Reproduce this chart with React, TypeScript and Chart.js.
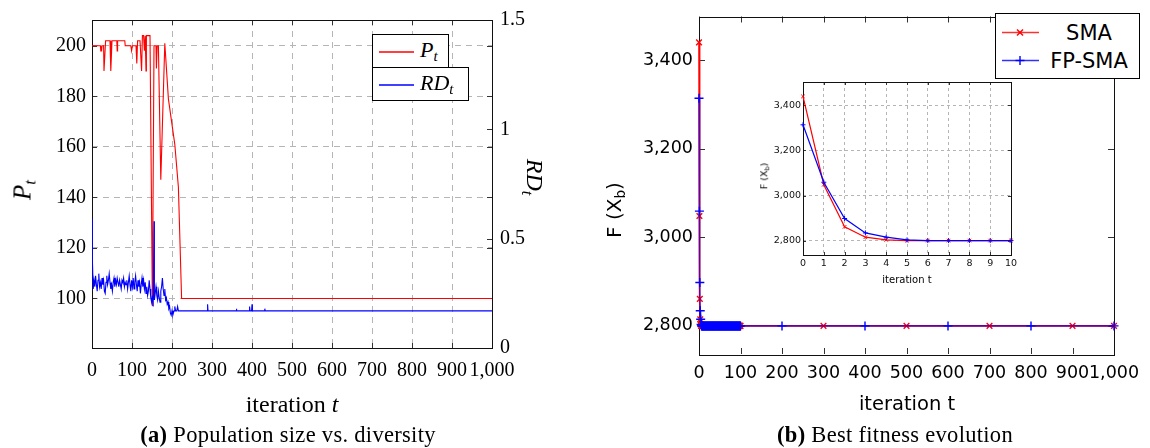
import React, { useEffect, useRef } from "react";
import { Chart, registerables } from "chart.js";
Chart.register(...registerables);

// ---------------- DATA ----------------
// (a) population size P_t (left axis)
const P_ITER = [0, 21, 22, 24, 25, 29, 30, 34, 45, 47,
  50, 62, 63, 64, 82, 83, 97, 99, 101, 110,
  112, 114, 120, 122, 124, 126, 129, 131, 133, 135,
  136, 142, 145, 151, 155, 160, 161, 163, 166, 172,
  182, 191, 207, 216, 224, 1000];
const P_VAL = [200, 200, 198, 198, 200, 200, 190, 202, 202, 190,
  202, 202, 198, 202, 202, 200, 200, 198, 200, 200,
  193, 202, 202, 202, 190, 204, 204, 198, 204, 190,
  204, 204, 204, 97, 200, 200, 191, 200, 200, 147,
  201, 179, 161, 144, 100, 100];

// (a) relative diversity RD_t (right axis)
const RD_ITER = [0, 1, 3, 5, 7, 9, 11, 13, 15, 17,
  19, 21, 23, 25, 27, 29, 31, 33, 35, 37,
  39, 41, 43, 45, 47, 49, 51, 53, 55, 57,
  59, 61, 63, 65, 67, 69, 71, 73, 75, 77,
  79, 81, 83, 85, 87, 89, 91, 93, 95, 97,
  99, 101, 103, 105, 107, 109, 111, 113, 115, 117,
  119, 121, 123, 125, 127, 129, 131, 133, 135, 137,
  139, 141, 143, 145, 147, 149, 151, 153, 155, 156,
  158, 160, 162, 164, 166, 168, 170, 172, 174, 176,
  178, 180, 182, 184, 186, 188, 190, 192, 194, 196,
  198, 200, 202, 205, 207, 209, 212, 214, 216, 220,
  288, 289, 290, 360, 361, 362, 393, 394, 395, 399,
  400, 401, 431, 432, 433, 1000];
const RD_VAL = [0.59, 0.40, 0.27, 0.31, 0.28, 0.33, 0.29, 0.26, 0.31, 0.34,
  0.28, 0.30, 0.27, 0.32, 0.29, 0.31, 0.26, 0.25, 0.30, 0.33,
  0.29, 0.31, 0.34, 0.30, 0.27, 0.29, 0.26, 0.30, 0.32, 0.28,
  0.31, 0.29, 0.32, 0.30, 0.28, 0.31, 0.29, 0.27, 0.31, 0.30,
  0.32, 0.28, 0.30, 0.29, 0.31, 0.27, 0.30, 0.33, 0.29, 0.26,
  0.31, 0.28, 0.32, 0.27, 0.30, 0.33, 0.29, 0.26, 0.31, 0.28,
  0.30, 0.25, 0.29, 0.32, 0.28, 0.31, 0.27, 0.30, 0.25, 0.28,
  0.24, 0.26, 0.31, 0.27, 0.23, 0.21, 0.24, 0.19, 0.58, 0.22,
  0.25, 0.28, 0.24, 0.22, 0.26, 0.23, 0.21, 0.26, 0.28, 0.32,
  0.27, 0.24, 0.27, 0.22, 0.23, 0.20, 0.21, 0.18, 0.19, 0.16,
  0.15, 0.17, 0.15, 0.17, 0.19, 0.17, 0.17, 0.19, 0.17, 0.17,
  0.17, 0.20, 0.17, 0.17, 0.18, 0.17, 0.17, 0.19, 0.17, 0.17,
  0.20, 0.17, 0.17, 0.18, 0.17, 0.17];

// (b) best fitness, every iteration 0..100
const ITER_DENSE = [0, 1, 2, 3, 4, 5, 6, 7, 8, 9,
  10, 11, 12, 13, 14, 15, 16, 17, 18, 19,
  20, 21, 22, 23, 24, 25, 26, 27, 28, 29,
  30, 31, 32, 33, 34, 35, 36, 37, 38, 39,
  40, 41, 42, 43, 44, 45, 46, 47, 48, 49,
  50, 51, 52, 53, 54, 55, 56, 57, 58, 59,
  60, 61, 62, 63, 64, 65, 66, 67, 68, 69,
  70, 71, 72, 73, 74, 75, 76, 77, 78, 79,
  80, 81, 82, 83, 84, 85, 86, 87, 88, 89,
  90, 91, 92, 93, 94, 95, 96, 97, 98, 99,
  100];
const SMA_DENSE = [3440, 3048, 2861, 2815, 2803, 2800, 2800, 2800, 2800, 2800,
  2800, 2800, 2800, 2800, 2800, 2800, 2800, 2800, 2800, 2800,
  2800, 2800, 2800, 2800, 2800, 2800, 2800, 2800, 2800, 2800,
  2800, 2800, 2800, 2800, 2800, 2800, 2800, 2800, 2800, 2800,
  2800, 2800, 2800, 2800, 2800, 2800, 2800, 2800, 2800, 2800,
  2800, 2800, 2800, 2800, 2800, 2800, 2800, 2800, 2800, 2800,
  2800, 2800, 2800, 2800, 2800, 2800, 2800, 2800, 2800, 2800,
  2800, 2800, 2800, 2800, 2800, 2800, 2800, 2800, 2800, 2800,
  2800, 2800, 2800, 2800, 2800, 2800, 2800, 2800, 2800, 2800,
  2800, 2800, 2800, 2800, 2800, 2800, 2800, 2800, 2800, 2800,
  2800];
const FP_DENSE = [3314, 3059, 2898, 2834, 2815, 2803, 2800, 2800, 2800, 2800,
  2800, 2800, 2800, 2800, 2800, 2800, 2800, 2800, 2800, 2800,
  2800, 2800, 2800, 2800, 2800, 2800, 2800, 2800, 2800, 2800,
  2800, 2800, 2800, 2800, 2800, 2800, 2800, 2800, 2800, 2800,
  2800, 2800, 2800, 2800, 2800, 2800, 2800, 2800, 2800, 2800,
  2800, 2800, 2800, 2800, 2800, 2800, 2800, 2800, 2800, 2800,
  2800, 2800, 2800, 2800, 2800, 2800, 2800, 2800, 2800, 2800,
  2800, 2800, 2800, 2800, 2800, 2800, 2800, 2800, 2800, 2800,
  2800, 2800, 2800, 2800, 2800, 2800, 2800, 2800, 2800, 2800,
  2800, 2800, 2800, 2800, 2800, 2800, 2800, 2800, 2800, 2800,
  2800];
// (b) sparse marks after iteration 100
const SMA_SPARSE_ITER = [300, 500, 700, 900, 1000];
const SMA_SPARSE = [2800, 2800, 2800, 2800, 2800];
const FP_SPARSE_ITER = [200, 400, 600, 800, 1000];
const FP_SPARSE = [2800, 2800, 2800, 2800, 2800];
// (b) inset: first 10 iterations
const INSET_ITER = [0, 1, 2, 3, 4, 5, 6, 7, 8, 9, 10];
const SMA_INSET = [3440, 3048, 2861, 2815, 2803, 2800, 2800, 2800, 2800, 2800, 2800];
const FP_INSET = [3314, 3059, 2898, 2834, 2815, 2803, 2800, 2800, 2800, 2800, 2800];

// tick values
const ITER_TICKS = [0, 100, 200, 300, 400, 500, 600, 700, 800, 900, 1000];
const P_TICKS = [100, 120, 140, 160, 180, 200];
const RD_TICKS = [0, 0.5, 1, 1.5];
const FIT_TICKS = [2800, 3000, 3200, 3400];
const INSET_TICKS = [0, 1, 2, 3, 4, 5, 6, 7, 8, 9, 10];

// ---------------- HELPERS ----------------
const SERIF = "'Liberation Serif', 'DejaVu Serif', serif";
const SANS = "'DejaVu Sans', 'Liberation Sans', sans-serif";

const pts = (xs: number[], ys: number[]) => xs.map((x, i) => ({ x, y: ys[i] }));
const setTicks = (vals: number[]) => (s: any) => {
  s.ticks = vals.map((v) => ({ value: v }));
};
const fmt = (v: any) => Number(v).toLocaleString("en-US");

const framePlugin = {
  id: "frame",
  beforeDatasetsDraw(chart: any, _a: any, opts: any) {
    const { ctx, chartArea: a } = chart;
    const len = opts.len || 5;
    ctx.save();
    ctx.setLineDash([]);
    ctx.strokeStyle = "#333";
    ctx.lineWidth = 1;
    (opts.ticks || []).forEach((spec: any) => {
      const s = chart.scales[spec.id];
      s.ticks.forEach((t: any) => {
        const p = Math.round(s.getPixelForValue(t.value)) + 0.5;
        spec.sides.forEach((side: string) => {
          ctx.beginPath();
          if (side === "bottom") { ctx.moveTo(p, a.bottom); ctx.lineTo(p, a.bottom - len); }
          if (side === "top") { ctx.moveTo(p, a.top); ctx.lineTo(p, a.top + len); }
          if (side === "left") { ctx.moveTo(a.left, p); ctx.lineTo(a.left + len, p); }
          if (side === "right") { ctx.moveTo(a.right, p); ctx.lineTo(a.right - len, p); }
          ctx.stroke();
        });
      });
    });
    ctx.strokeStyle = "#111";
    ctx.strokeRect(Math.round(a.left) + 0.5, Math.round(a.top) + 0.5,
      Math.round(a.right - a.left), Math.round(a.bottom - a.top));
    ctx.restore();
  },
};

function ChartCanvas({ left, top, width, height, config }: any) {
  const ref = useRef<HTMLCanvasElement>(null);
  useEffect(() => {
    const c = new Chart(ref.current as HTMLCanvasElement, config());
    return () => c.destroy();
  }, []);
  return (
    <canvas ref={ref} width={width} height={height}
      style={{ position: "absolute", left, top, width, height }} />
  );
}

const Label = ({ x, y, rot = 0, style, children }: any) => (
  <div style={{
    position: "absolute", left: x, top: y, whiteSpace: "nowrap", lineHeight: 1, color: "#000",
    transform: `translate(-50%,-50%) rotate(${rot}deg)`, ...style,
  }}>{children}</div>
);

const subStyle = { fontSize: "0.68em", verticalAlign: "-0.3em", lineHeight: 0 };

// ---------------- CHART CONFIGS ----------------
const leftConfig = () => ({
  type: "line",
  data: {
    datasets: [
      { label: "RD", data: pts(RD_ITER, RD_VAL), yAxisID: "y1", borderColor: "#0000ff", borderWidth: 1.1, pointRadius: 0, order: 0 },
      { label: "P", data: pts(P_ITER, P_VAL), yAxisID: "y", borderColor: "#ff0000", borderWidth: 1.1, pointRadius: 0, order: 1 },
    ],
  },
  options: {
    animation: false, responsive: false, events: [],
    layout: { padding: { top: 17, left: 0, right: 0, bottom: 0 } },
    plugins: {
      legend: { display: false }, tooltip: { enabled: false },
      frame: { len: 5, ticks: [{ id: "x", sides: ["bottom", "top"] }, { id: "y", sides: ["left", "right"] }, { id: "y1", sides: ["right"] }] },
    },
    scales: {
      x: {
        type: "linear", position: "bottom", min: 0, max: 1000,
        afterBuildTicks: setTicks(ITER_TICKS), afterFit: (s: any) => { s.height = 100; },
        ticks: { autoSkip: false, maxRotation: 0, minRotation: 0, padding: 11, color: "#000", font: { family: SERIF, size: 20 }, callback: fmt },
        grid: { color: "#b5b5b5", lineWidth: 1, drawTicks: false },
        border: { display: false, dash: [6, 5] },
      },
      y: {
        type: "linear", position: "left", min: 80.4, max: 210.2,
        afterBuildTicks: setTicks(P_TICKS), afterFit: (s: any) => { s.width = 92; },
        ticks: { autoSkip: false, padding: 6, color: "#000", font: { family: SERIF, size: 20 }, callback: fmt },
        grid: { color: "#b5b5b5", lineWidth: 1, drawTicks: false },
        border: { display: false, dash: [6, 5] },
      },
      y1: {
        type: "linear", position: "right", min: 0, max: 1.5,
        afterBuildTicks: setTicks(RD_TICKS), afterFit: (s: any) => { s.width = 78; },
        ticks: { autoSkip: false, padding: 8, color: "#000", font: { family: SERIF, size: 20 }, callback: (v: any) => String(v) },
        grid: { display: false, drawTicks: false },
        border: { display: false },
      },
    },
  },
  plugins: [framePlugin],
});

const mainConfig = () => ({
  type: "line",
  data: {
    datasets: [
      {
        label: "FP-SMA", data: pts(ITER_DENSE.concat(FP_SPARSE_ITER), FP_DENSE.concat(FP_SPARSE)),
        borderColor: "rgba(0,0,255,0.6)", borderWidth: 1.6, pointStyle: "cross", pointRadius: 4.5,
        pointBorderColor: "#0000ff", pointBackgroundColor: "#0000ff", pointBorderWidth: 1.4, order: 0, clip: false,
      },
      {
        label: "SMA", data: pts(ITER_DENSE.concat(SMA_SPARSE_ITER), SMA_DENSE.concat(SMA_SPARSE)),
        borderColor: "#ff0000", borderWidth: 1.6, pointStyle: "crossRot", pointRadius: 4,
        pointBorderColor: "#ff0000", pointBackgroundColor: "#ff0000", pointBorderWidth: 1.4, order: 1, clip: false,
      },
    ],
  },
  options: {
    animation: false, responsive: false, events: [],
    layout: { padding: { top: 10, left: 0, right: 36, bottom: 0 } },
    plugins: {
      legend: { display: false }, tooltip: { enabled: false },
      frame: { len: 6, ticks: [{ id: "x", sides: ["bottom", "top"] }, { id: "y", sides: ["left", "right"] }] },
    },
    scales: {
      x: {
        type: "linear", min: 0, max: 1000,
        afterBuildTicks: setTicks(ITER_TICKS), afterFit: (s: any) => { s.height = 94; },
        ticks: { autoSkip: false, maxRotation: 0, minRotation: 0, padding: 9, color: "#000", font: { family: SANS, size: 17.5 }, callback: fmt },
        grid: { display: false, drawTicks: false }, border: { display: false },
      },
      y: {
        type: "linear", min: 2736.5, max: 3498.5,
        afterBuildTicks: setTicks(FIT_TICKS), afterFit: (s: any) => { s.width = 129; },
        ticks: { autoSkip: false, padding: 6, color: "#000", font: { family: SANS, size: 17.5 }, callback: fmt },
        grid: { display: false, drawTicks: false }, border: { display: false },
      },
    },
  },
  plugins: [framePlugin],
});

const insetConfig = () => ({
  type: "line",
  data: {
    datasets: [
      {
        label: "FP-SMA", data: pts(INSET_ITER, FP_INSET),
        borderColor: "#0000ff", borderWidth: 1.2, pointStyle: "cross", pointRadius: 2.5,
        pointBorderColor: "#0000ff", pointBorderWidth: 1, order: 0, clip: false,
      },
      {
        label: "SMA", data: pts(INSET_ITER, SMA_INSET),
        borderColor: "#ff0000", borderWidth: 1.2, pointStyle: "crossRot", pointRadius: 2.5,
        pointBorderColor: "#ff0000", pointBorderWidth: 1, order: 1, clip: false,
      },
    ],
  },
  options: {
    animation: false, responsive: false, events: [],
    layout: { padding: { top: 22, left: 0, right: 19, bottom: 0 } },
    plugins: {
      legend: { display: false }, tooltip: { enabled: false },
      frame: { len: 3, ticks: [{ id: "x", sides: ["bottom", "top"] }, { id: "y", sides: ["left", "right"] }] },
    },
    scales: {
      x: {
        type: "linear", min: 0, max: 10,
        afterBuildTicks: setTicks(INSET_TICKS), afterFit: (s: any) => { s.height = 35; },
        ticks: { autoSkip: false, maxRotation: 0, minRotation: 0, padding: 3, color: "#111", font: { family: SANS, size: 9.5 }, callback: fmt },
        grid: { color: "#b5b5b5", drawTicks: false }, border: { display: false, dash: [3, 3] },
      },
      y: {
        type: "linear", min: 2736, max: 3504,
        afterBuildTicks: setTicks(FIT_TICKS), afterFit: (s: any) => { s.width = 63; },
        ticks: { autoSkip: false, padding: 2, color: "#111", font: { family: SANS, size: 9.5 }, callback: fmt },
        grid: { color: "#b5b5b5", drawTicks: false }, border: { display: false, dash: [3, 3] },
      },
    },
  },
  plugins: [framePlugin],
});

// ---------------- APP ----------------
export default function App() {
  return (
    <div style={{ position: "absolute", left: 0, top: 0, width: 1150, height: 448, background: "#fff", overflow: "hidden" }}>
      <ChartCanvas left={0} top={0} width={570} height={448} config={leftConfig} />
      <ChartCanvas left={570} top={0} width={580} height={448} config={mainConfig} />
      <ChartCanvas left={740} top={60} width={290} height={230} config={insetConfig} />

      {/* (a) texts */}
      <Label x={22} y={190} rot={-90} style={{ fontFamily: SERIF, fontSize: 25, fontStyle: "italic" }}>
        P<sub style={subStyle}>t</sub>
      </Label>
      <Label x={535} y={177} rot={90} style={{ fontFamily: SERIF, fontSize: 24, fontStyle: "italic" }}>
        RD<sub style={subStyle}>t</sub>
      </Label>
      <Label x={292} y={404} style={{ fontFamily: SERIF, fontSize: 24 }}>
        iteration <i>t</i>
      </Label>
      <Label x={288} y={435} style={{ fontFamily: SERIF, fontSize: 22.5, letterSpacing: 0.3 }}>
        <b>(a)</b> Population size vs. diversity
      </Label>

      {/* (a) legend */}
      <div style={{ position: "absolute", left: 372, top: 34, width: 77, height: 34, boxSizing: "border-box", border: "1px solid #000", background: "#fff" }}>
        <div style={{ position: "absolute", left: 6, top: 16, width: 35, height: 1.5, background: "#ff4040" }} />
        <span style={{ position: "absolute", left: 47, top: 3, fontFamily: SERIF, fontSize: 22, fontStyle: "italic", lineHeight: "24px" }}>
          P<sub style={subStyle}>t</sub>
        </span>
      </div>
      <div style={{ position: "absolute", left: 372, top: 67, width: 97, height: 34, boxSizing: "border-box", border: "1px solid #000", background: "#fff" }}>
        <div style={{ position: "absolute", left: 6, top: 16, width: 35, height: 1.5, background: "#4040ff" }} />
        <span style={{ position: "absolute", left: 47, top: 3, fontFamily: SERIF, fontSize: 22, fontStyle: "italic", lineHeight: "24px" }}>
          RD<sub style={subStyle}>t</sub>
        </span>
      </div>

      {/* (b) texts */}
      <Label x={614} y={210} rot={-90} style={{ fontFamily: SANS, fontSize: 20 }}>
        F (X<sub style={subStyle}>b</sub>)
      </Label>
      <Label x={907} y={404} style={{ fontFamily: SANS, fontSize: 19.5 }}>
        iteration t
      </Label>
      <Label x={895} y={435} style={{ fontFamily: SERIF, fontSize: 22.5, letterSpacing: 0.3 }}>
        <b>(b)</b> Best fitness evolution
      </Label>
      <Label x={764} y={176} rot={-90} style={{ fontFamily: SANS, fontSize: 9.5 }}>
        F (X<sub style={subStyle}>b</sub>)
      </Label>
      <Label x={907} y={280} style={{ fontFamily: SANS, fontSize: 10 }}>
        iteration t
      </Label>

      {/* (b) legend */}
      <div style={{ position: "absolute", left: 995, top: 13, width: 145, height: 66, boxSizing: "border-box", border: "1px solid #000", background: "#fff" }}>
        <svg width={145} height={66} style={{ position: "absolute", left: -1, top: -1 }}>
          <line x1={7} y1={19.5} x2={44} y2={19.5} stroke="#ff3030" strokeWidth={1.5} />
          <line x1={22} y1={16.5} x2={28} y2={22.5} stroke="#ff0000" strokeWidth={1.4} />
          <line x1={22} y1={22.5} x2={28} y2={16.5} stroke="#ff0000" strokeWidth={1.4} />
          <line x1={7} y1={47.5} x2={44} y2={47.5} stroke="#3030ff" strokeWidth={1.5} />
          <line x1={25} y1={43} x2={25} y2={52} stroke="#0000ff" strokeWidth={1.4} />
          <line x1={20.5} y1={47.5} x2={29.5} y2={47.5} stroke="#0000ff" strokeWidth={1.4} />
        </svg>
        <div style={{ position: "absolute", left: 93, top: 19, transform: "translate(-50%,-50%)", fontFamily: SANS, fontSize: 21, lineHeight: 1, whiteSpace: "nowrap" }}>SMA</div>
        <div style={{ position: "absolute", left: 93, top: 47, transform: "translate(-50%,-50%)", fontFamily: SANS, fontSize: 21, lineHeight: 1, whiteSpace: "nowrap" }}>FP-SMA</div>
      </div>
    </div>
  );
}
